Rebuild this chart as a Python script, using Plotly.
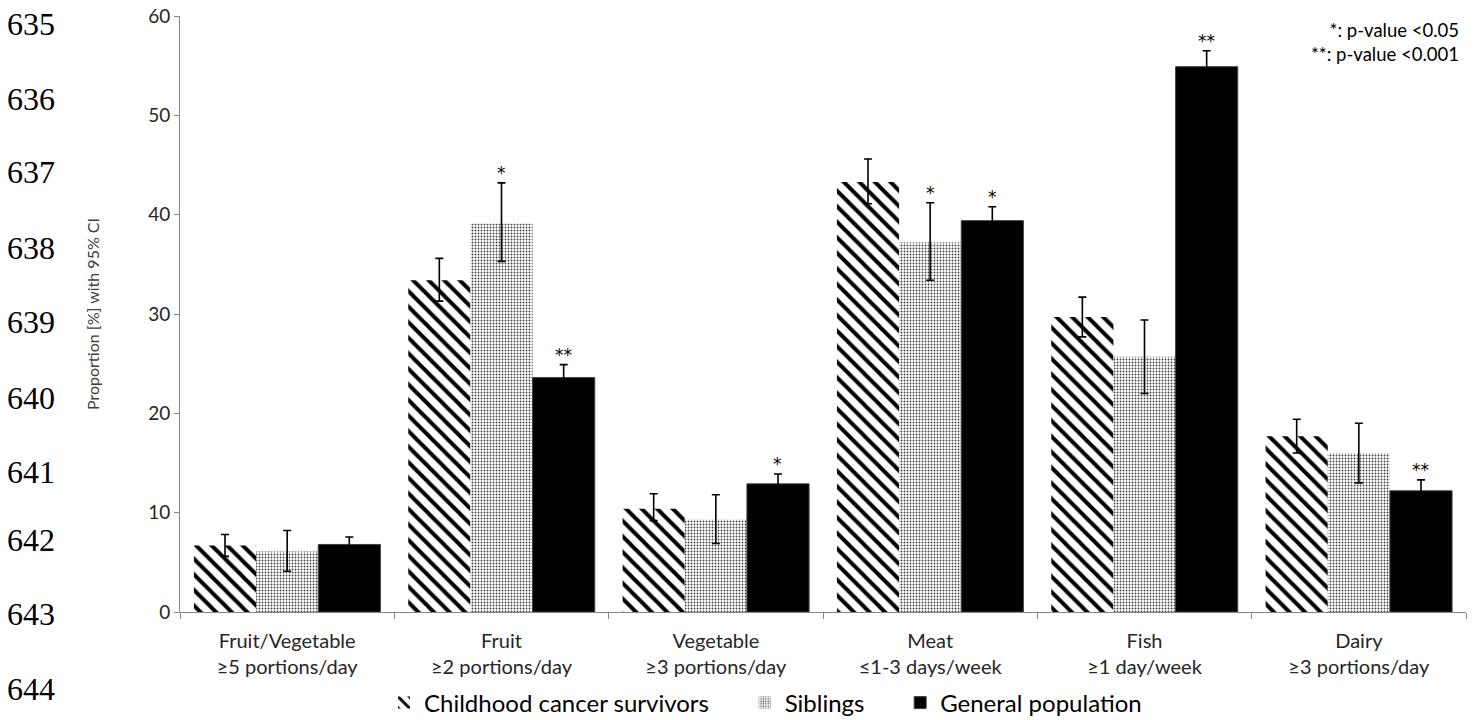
import plotly.graph_objects as go

categories = ["Fruit/Vegetable<br>≥5 portions/day", "Fruit<br>≥2 portions/day",
              "Vegetable<br>≥3 portions/day", "Meat<br>≤1-3 days/week",
              "Fish<br>≥1 day/week", "Dairy<br>≥3 portions/day"]

ccs = [6.7, 33.4, 10.4, 43.3, 29.7, 17.7]
ccs_hi = [7.8, 35.6, 11.9, 45.6, 31.7, 19.4]
ccs_lo = [5.6, 31.3, 9.2, 41.1, 27.7, 16.0]

sib = [6.1, 39.1, 9.3, 37.2, 25.7, 16.0]
sib_hi = [8.2, 43.2, 11.8, 41.2, 29.4, 19.0]
sib_lo = [4.1, 35.3, 6.9, 33.4, 22.0, 13.0]

gp = [6.8, 23.6, 12.9, 39.4, 54.9, 12.2]
gp_hi = [7.55, 24.9, 13.9, 40.8, 56.5, 13.3]
gp_lo = [6.05, 22.3, 11.9, 38.0, 53.3, 11.1]

sig_sib = ["", "*", "", "*", "", ""]
sig_gp = ["", "**", "*", "*", "**", "**"]

series_names = ["Childhood cancer survivors", "Siblings", "General population"]

line_numbers = ["635", "636", "637", "638", "639", "640", "641", "642", "643", "644"]
line_number_y = [24, 99, 172, 248, 322, 398, 472, 540, 614, 689]

FONT = "Lato"
W, H = 1476, 720
ML, MR, MT, MB = 180, 10, 16, 108
BARGAP = 0.13
NB = "\u00a0"


def err(v, hi, lo):
    return dict(type="data", symmetric=False,
                array=[h - x for h, x in zip(hi, v)],
                arrayminus=[x - l for x, l in zip(v, lo)],
                color="black", thickness=1.6, width=4)


fig = go.Figure()
fig.add_trace(go.Bar(
    name=series_names[0] + NB * 5, x=categories, y=ccs,
    marker=dict(color="white", line=dict(width=0),
                pattern=dict(shape="\\", fgcolor="black", bgcolor="white",
                             fgopacity=1, fillmode="replace",
                             size=11, solidity=0.36)),
    error_y=err(ccs, ccs_hi, ccs_lo)))
fig.add_trace(go.Bar(
    name=series_names[1] + NB * 5, x=categories, y=sib,
    marker=dict(color="white", line=dict(width=0),
                pattern=dict(shape=".", fgcolor="#404040", bgcolor="white",
                             fgopacity=1, fillmode="replace",
                             size=3, solidity=0.3)),
    error_y=err(sib, sib_hi, sib_lo)))
fig.add_trace(go.Bar(
    name=series_names[2], x=categories, y=gp,
    marker=dict(color="black", line=dict(width=1, color="#404040")),
    error_y=err(gp, gp_hi, gp_lo)))

plot_w = W - ML - MR
plot_h = H - MT - MB
cat_w = plot_w / len(categories)
bar_w = cat_w * (1 - BARGAP) / 3

annotations = []
for i, c in enumerate(categories):
    for txt, top, shift in ((sig_sib[i], sib_hi[i], 0.0), (sig_gp[i], gp_hi[i], bar_w)):
        if txt:
            annotations.append(dict(x=c, y=top, xref="x", yref="y", text=txt,
                                    showarrow=False, xshift=shift, yanchor="bottom",
                                    yshift=-2, font=dict(family="DejaVu Sans", size=17, color="black")))

annotations.append(dict(x=1, y=1, xref="paper", yref="paper", xanchor="right", yanchor="top",
                        align="right", showarrow=False, xshift=-5, yshift=-1,
                        text="*: p-value <0.05<br>**: p-value <0.001",
                        font=dict(family=FONT, size=18.5, color="black")))

for t, yp in zip(line_numbers, line_number_y):
    annotations.append(dict(x=(5 - ML) / plot_w, y=(H - MB - yp) / plot_h,
                            xref="paper", yref="paper",
                            xanchor="left", yanchor="middle", showarrow=False,
                            text=t, font=dict(family="Liberation Serif", size=32, color="black")))

fig.update_layout(
    width=W, height=H,
    margin=dict(l=ML, r=MR, t=MT, b=MB, autoexpand=False),
    plot_bgcolor="white", paper_bgcolor="white",
    barmode="group", bargap=BARGAP, bargroupgap=0,
    font=dict(family=FONT, color="#262626"),
    showlegend=True,
    legend=dict(orientation="h", x=(384 - ML) / plot_w, xanchor="left",
                y=-(703 - (H - MB)) / plot_h, yanchor="middle",
                font=dict(family=FONT, size=24, color="black"),
                bgcolor="rgba(0,0,0,0)"),
    annotations=annotations,
)
fig.update_yaxes(range=[0, 60], dtick=10, showgrid=False, zeroline=False, automargin=False,
                 showline=True, linecolor="#868686", linewidth=1,
                 ticks="outside", ticklen=5, tickcolor="#868686",
                 tickfont=dict(family=FONT, size=19, color="#262626"),
                 title=dict(text="Proportion [%] with 95% CI", standoff=44,
                            font=dict(family=FONT, size=16, color="#404040")))
fig.update_xaxes(showgrid=False, showline=True, linecolor="#868686", linewidth=1, automargin=False,
                 ticks="outside", ticklen=6, tickcolor="#868686", tickson="boundaries",
                 tickfont=dict(family=FONT, size=20, color="#262626"),
                 ticklabelstandoff=11)

fig.write_html("out.html", config={"displayModeBar": False},
               post_script="document.body.style.margin='0';document.body.style.padding='0';"
                           "document.body.style.overflow='hidden';")
